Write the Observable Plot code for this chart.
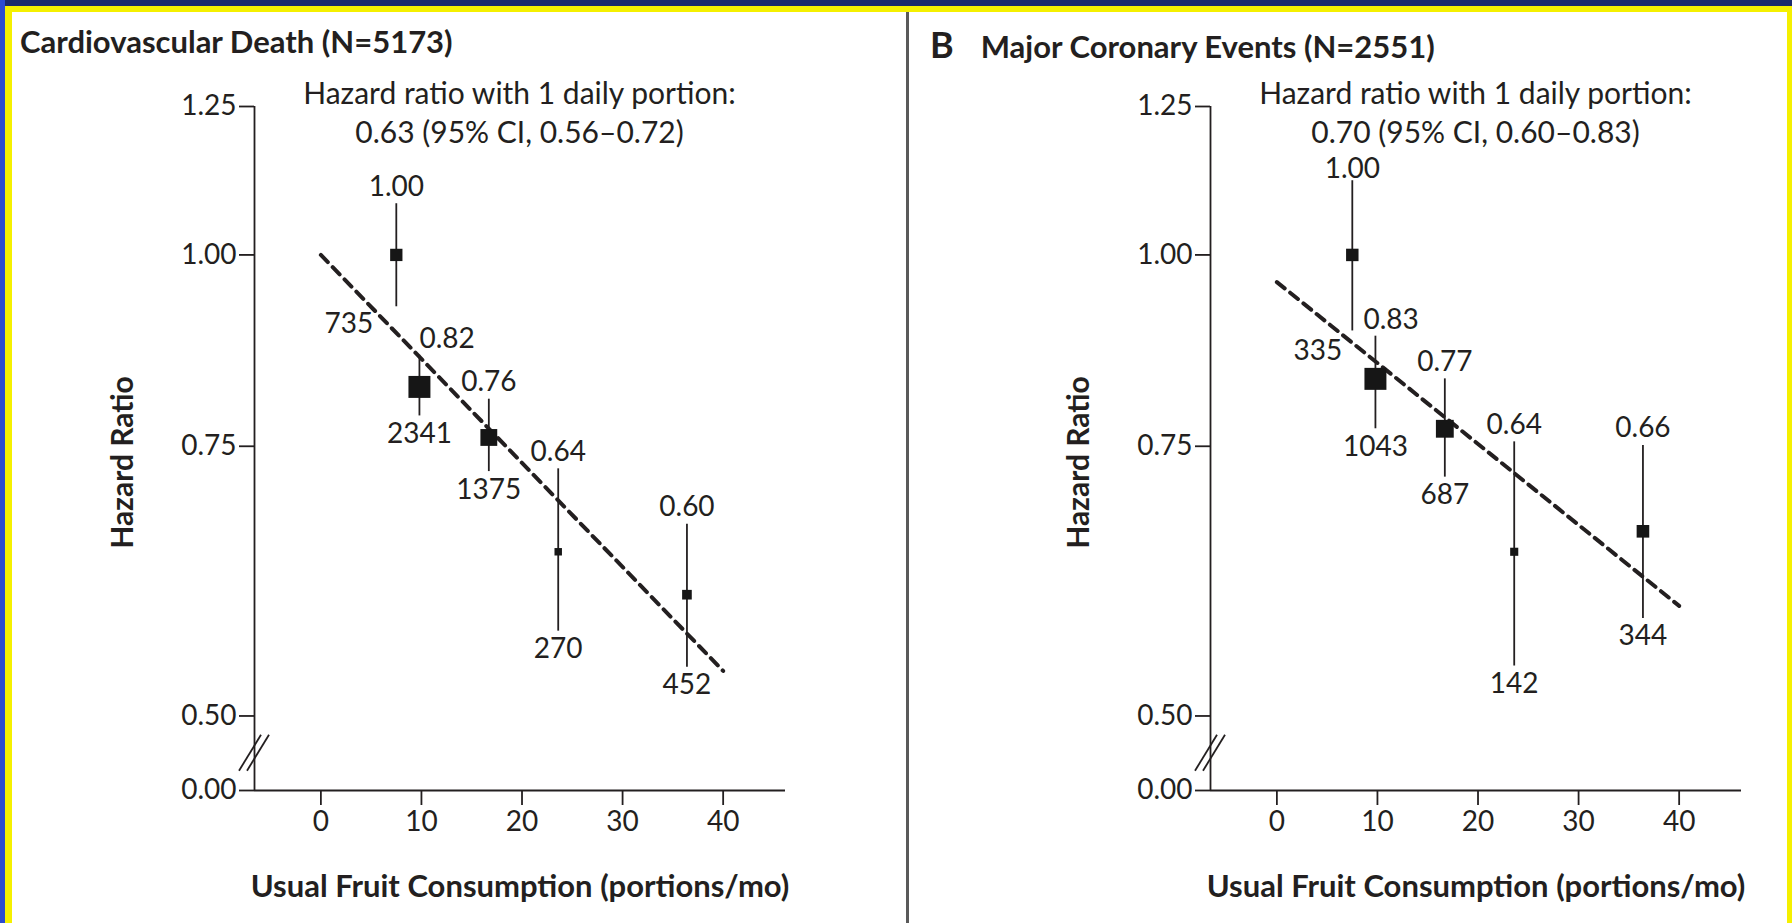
<!DOCTYPE html>
<html>
<head>
<meta charset="utf-8">
<script src="https://cdn.jsdelivr.net/npm/d3@7"></script>
<script src="https://cdn.jsdelivr.net/npm/@observablehq/plot@0.6"></script>
<style>
  html, body { margin: 0; padding: 0; }
  body { width: 1792px; height: 923px; overflow: hidden; background: #fff; position: relative;
         font-family: Lato, "Open Sans", sans-serif; color: #231f20; }
  .abs { position: absolute; }
  .title { position: absolute; top: 26px; display: flex; align-items: baseline; font-weight: 700; white-space: nowrap; line-height: 1; }
  .title .letter { font-size: 36px; margin-right: 27px; }
  .title .name { font-size: 31px; }
  .panel { position: absolute; top: 60px; }
  .panel svg { overflow: visible; }
</style>
</head>
<body>
<!-- frame -->
<div class="abs" style="left:0;top:0;width:1792px;height:6px;background:#1b2a6b;z-index:5"></div>
<div class="abs" style="left:0;top:0;width:5px;height:923px;background:#2b4bd0;z-index:5"></div>
<div class="abs" style="left:5px;top:6px;width:1787px;height:6px;background:#f5f000;z-index:5"></div>
<div class="abs" style="left:5px;top:6px;width:7px;height:917px;background:#f5f000;z-index:5"></div>
<div class="abs" style="left:1787px;top:6px;width:5px;height:917px;background:#f5f000;z-index:5"></div>
<div class="abs" style="left:906px;top:12px;width:3px;height:911px;background:#5a5a5a;z-index:5"></div>

<div class="title" style="left:20px"><span class="name" id="titleA"></span></div>
<div class="title" style="left:930px"><span class="letter">B</span><span class="name" id="titleB"></span></div>

<div class="panel" id="panelA" style="left:12px"></div>
<div class="panel" id="panelB" style="left:910px"></div>

<script>
// ---------------- data ----------------
const panelTitles = ["Cardiovascular Death (N=5173)", "Major Coronary Events (N=2551)"];
const annotations = [
  "Hazard ratio with 1 daily portion:\n0.63 (95% CI, 0.56\u20130.72)",
  "Hazard ratio with 1 daily portion:\n0.70 (95% CI, 0.60\u20130.83)"
];
const xLabel = "Usual Fruit Consumption (portions/mo)";
const yLabel = "Hazard Ratio";

// mean usual fruit consumption of each group (portions/mo)
const groupX = [7.5, 9.8, 16.7, 23.6, 36.4];

// Panel A: cardiovascular death
const cvdHR = [1.00, 0.82, 0.76, 0.64, 0.60];
const cvdLo = [0.925, 0.785, 0.722, 0.568, 0.538];
const cvdHi = [1.08, 0.86, 0.805, 0.725, 0.667];
const cvdN  = [735, 2341, 1375, 270, 452];
const cvdTrendX = [0, 40];
const cvdTrendY = [1.00, 0.535];

// Panel B: major coronary events
const mceHR = [1.00, 0.83, 0.77, 0.64, 0.66];
const mceLo = [0.892, 0.770, 0.716, 0.539, 0.579];
const mceHi = [1.118, 0.885, 0.830, 0.755, 0.751];
const mceN  = [335, 1043, 687, 142, 344];
const mceTrendX = [0, 40];
const mceTrendY = [0.96, 0.59];

// axis ticks
const yTicks = [0, 0.50, 0.75, 1.00, 1.25];
const xTicks = [0, 10, 20, 30, 40];

// ---------------- drawing ----------------
const INK = "#231f20";
const BREAK_BASE = 0.447;          // stand-in position of the "0.00" tick below the axis break (log scale)
const X_DOMAIN = [-6.6, 46.2];

function axisBreak(yTop, yBot) {
  return (index, scales) => {
    const x = scales.x(X_DOMAIN[0]);
    const ym = (scales.y(yTop) + scales.y(yBot)) / 2;
    const g = d3.create("svg:g").attr("stroke", INK).attr("stroke-width", 1.8).attr("fill", "none");
    for (const off of [-4, 4]) {
      g.append("line")
        .attr("x1", x + off - 11).attr("y1", ym + 18)
        .attr("x2", x + off + 11).attr("y2", ym - 18);
    }
    return g.node();
  };
}

function panel({hr, lo, hi, n, trendX, trendY, annotation, width, marginLeft, marginRight, refDx, refDy, secDx, firstDy}) {
  const rows = groupX.map((x, i) => ({i, x, hr: hr[i], lo: lo[i], hi: hi[i], n: n[i]}));
  const trend = trendX.map((x, i) => ({x, y: trendY[i]}));
  const yTickVals = yTicks.map(t => t === 0 ? BREAK_BASE : t);
  return Plot.plot({
    width, height: 863,
    marginLeft, marginRight, marginTop: 46, marginBottom: 133,
    style: {fontFamily: "Lato, 'Open Sans', sans-serif", fontSize: "28px", color: INK, background: "transparent", overflow: "visible"},
    x: {domain: X_DOMAIN},
    y: {type: "log", domain: [BREAK_BASE, 1.25]},
    r: {range: [0, 12.4]},
    marks: [
      Plot.axisY({ticks: yTickVals, tickFormat: d => d === BREAK_BASE ? "0.00" : d.toFixed(2),
                  tickSize: 15, tickPadding: 3, strokeWidth: 1.8, label: null}),
      Plot.axisX({ticks: xTicks, tickSize: 15, tickPadding: 6, strokeWidth: 1.8, label: null}),
      Plot.ruleX([X_DOMAIN[0]], {stroke: INK, strokeWidth: 1.8}),
      Plot.ruleY([BREAK_BASE], {stroke: INK, strokeWidth: 1.8}),
      axisBreak(0.5, BREAK_BASE),
      Plot.text([yLabel], {text: d => d, frameAnchor: "left", rotate: -90, dx: -131, dy: 14,
                           textAnchor: "middle", lineAnchor: "middle", fontWeight: 700, fontSize: 30}),
      Plot.text([xLabel], {text: d => d, frameAnchor: "bottom", dy: 97,
                           textAnchor: "middle", lineAnchor: "middle", fontWeight: 700, fontSize: 31}),
      Plot.text([annotation], {text: d => d, frameAnchor: "top-left", dx: 265, dy: 5, fontSize: 30,
                               lineAnchor: "middle", lineHeight: 1.3, textAnchor: "middle"}),
      Plot.line(trend, {x: "x", y: "y", stroke: INK, strokeWidth: 4, strokeDasharray: "10,7"}),
      Plot.ruleX(rows, {x: "x", y1: "lo", y2: "hi", stroke: INK, strokeWidth: 1.8}),
      Plot.dot(rows, {x: "x", y: "hr", r: "n", symbol: "square", fill: "#161616", stroke: "none"}),
      // hazard-ratio labels above the CI
      Plot.text(rows.filter(d => d.i === 0), {x: "x", y: "hi", text: d => d.hr.toFixed(2), dy: firstDy}),
      Plot.text(rows.filter(d => d.i > 1), {x: "x", y: "hi", text: d => d.hr.toFixed(2), dy: -17}),
      Plot.text(rows.filter(d => d.i === 1), {x: "x", y: "hi", text: d => d.hr.toFixed(2), dy: -16, dx: secDx, textAnchor: "start"}),
      // case counts below the CI
      Plot.text(rows.filter(d => d.i !== 0), {x: "x", y: "lo", text: d => String(d.n), dy: 18}),
      Plot.text(rows.filter(d => d.i === 0), {x: "x", y: "lo", text: d => String(d.n), dy: refDy, dx: refDx, textAnchor: "end"})
    ]
  });
}

document.getElementById("titleA").textContent = panelTitles[0];
document.getElementById("titleB").textContent = panelTitles[1];

document.getElementById("panelA").append(panel({
  hr: cvdHR, lo: cvdLo, hi: cvdHi, n: cvdN, trendX: cvdTrendX, trendY: cvdTrendY,
  annotation: annotations[0], width: 888, marginLeft: 242, marginRight: 115,
  refDx: -23, refDy: 17, secDx: 0, firstDy: -17
}));
document.getElementById("panelB").append(panel({
  hr: mceHR, lo: mceLo, hi: mceHi, n: mceN, trendX: mceTrendX, trendY: mceTrendY,
  annotation: annotations[1], width: 876, marginLeft: 300, marginRight: 45,
  refDx: -10, refDy: 20, secDx: -12, firstDy: -12
}));
</script>
</body>
</html>
